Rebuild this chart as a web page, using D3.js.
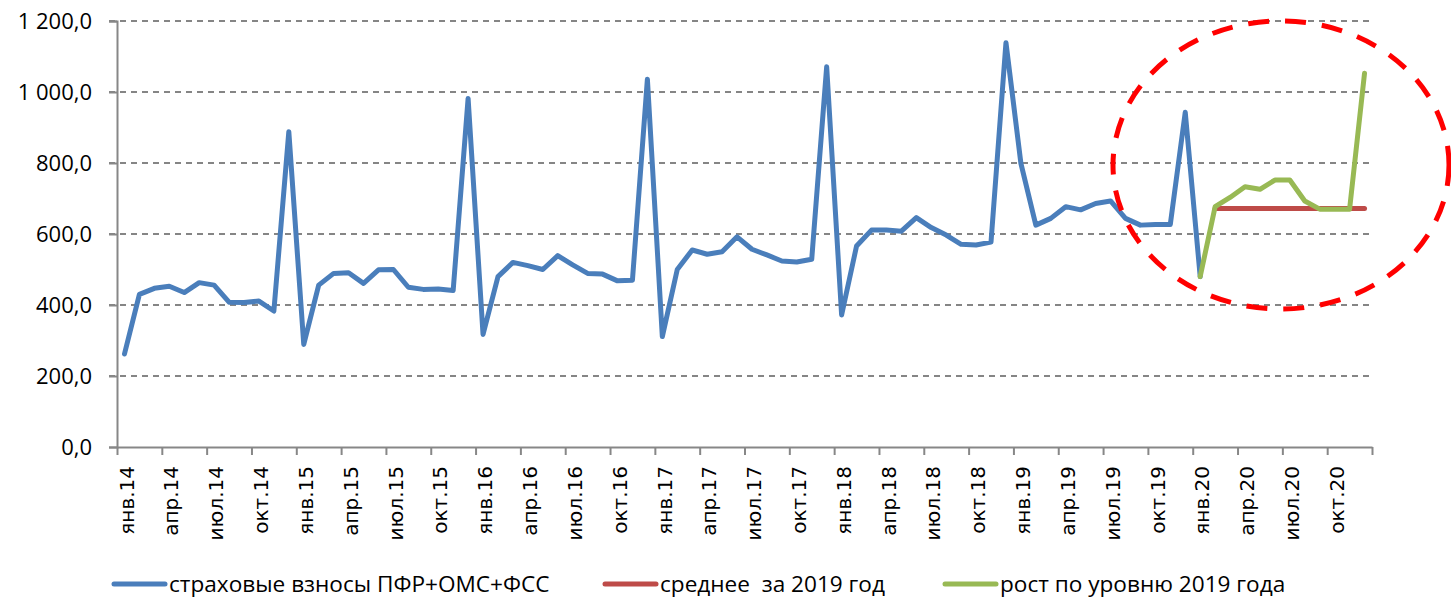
<!DOCTYPE html>
<html>
<head>
<meta charset="utf-8">
<script src="https://cdn.jsdelivr.net/npm/d3@7"></script>
<style>
  body { margin: 0; background: #fff; }
  svg { display: block; }
</style>
</head>
<body>
<div id="chart"></div>
<script>
// month names and years used to build the category axis
const monthNames = ["янв", "фев", "мар", "апр", "май", "июн", "июл", "авг", "сен", "окт", "ноя", "дек"];
const years = ["14", "15", "16", "17", "18", "19", "20"];
const categories = years.flatMap((yr) => monthNames.map((m) => m + "." + yr));

// labels shown under the axis (every 3rd month)
const tickLabels = [
  "янв.14", "апр.14", "июл.14", "окт.14",
  "янв.15", "апр.15", "июл.15", "окт.15",
  "янв.16", "апр.16", "июл.16", "окт.16",
  "янв.17", "апр.17", "июл.17", "окт.17",
  "янв.18", "апр.18", "июл.18", "окт.18",
  "янв.19", "апр.19", "июл.19", "окт.19",
  "янв.20", "апр.20", "июл.20", "окт.20"
];

const yTicks = [0, 200, 400, 600, 800, 1000, 1200];

// страховые взносы, янв.14 - янв.20
const contributions = [
  262, 430, 447, 453, 435, 463, 456, 408, 407, 411, 383, 888,
  289, 456, 489, 491, 461, 499, 500, 450, 444, 445, 441, 982,
  317, 480, 520, 511, 500, 539, 513, 489, 487, 468, 470, 1036,
  311, 500, 555, 543, 550, 592, 557, 541, 524, 521, 529, 1071,
  372, 566, 611, 611, 608, 646, 618, 597, 571, 569, 577, 1139,
  799, 625, 644, 677, 668, 686, 693, 644, 625, 627, 627, 943,
  480
];
const contributionsStart = 0; // янв.14

// среднее за 2019 год, фев.20 - дек.20
const average2019 = [672, 672, 672, 672, 672, 672, 672, 672, 672, 672, 672];
const averageStart = 73; // фев.20

// рост по уровню 2019 года, янв.20 - дек.20
const growth2019 = [480, 677, 703, 733, 726, 752, 752, 693, 670, 670, 670, 1053];
const growthStart = 72; // янв.20

const legendNames = ["страховые взносы ПФР+ОМС+ФСС", "среднее  за 2019 год", "рост по уровню 2019 года"];
const colors = ["#4A7EBB", "#BE4B48", "#98B954"];

const width = 1451;
const height = 600;
const plot = { left: 117, right: 1372, top: 21, bottom: 447 };

const svg = d3
  .select("#chart")
  .append("svg")
  .attr("width", width)
  .attr("height", height);

const x = d3
  .scaleBand()
  .domain(categories)
  .range([plot.left, plot.right])
  .padding(0);

const xIndex = d3
  .scaleLinear()
  .domain([0, categories.length])
  .range([plot.left, plot.right]);

const y = d3
  .scaleLinear()
  .domain([0, 1200])
  .range([plot.bottom, plot.top]);

const ruLocale = d3.formatLocale({
  decimal: ",",
  thousands: " ",
  grouping: [3],
  currency: ["", ""]
});
const fmt = ruLocale.format(",.1f");

// gridlines (dashed)
svg
  .append("g")
  .selectAll("line")
  .data(yTicks.filter((d) => d > 0))
  .enter()
  .append("line")
  .attr("x1", plot.left - 8)
  .attr("x2", plot.right)
  .attr("y1", (d) => y(d))
  .attr("y2", (d) => y(d))
  .style("stroke", "#858585")
  .style("stroke-width", "2px")
  .style("stroke-dasharray", "6,5");

// y axis
const yAxis = svg
  .append("g")
  .attr("transform", `translate(${plot.left}, 0)`)
  .call(d3.axisLeft(y).tickValues(yTicks).tickSize(8).tickPadding(17).tickFormat(fmt));
yAxis.select(".domain").style("stroke", "#878787").style("stroke-width", "2px");
yAxis.selectAll(".tick line").style("stroke", "#878787").style("stroke-width", "2px");
yAxis
  .selectAll(".tick text")
  .style("font-family", "'Open Sans', sans-serif")
  .style("font-size", "22px")
  .style("fill", "#000");

// x axis: ticks between categories
const xAxis = svg
  .append("g")
  .attr("transform", `translate(0, ${plot.bottom})`)
  .call(
    d3
      .axisBottom(xIndex)
      .tickValues(d3.range(0, categories.length + 1, 3))
      .tickSize(8)
      .tickSizeOuter(0)
      .tickFormat("")
  );
xAxis.select(".domain").style("stroke", "#878787").style("stroke-width", "2px");
xAxis.selectAll(".tick line").style("stroke", "#878787").style("stroke-width", "2px");

// rotated month labels
svg
  .append("g")
  .selectAll("text")
  .data(tickLabels)
  .enter()
  .append("text")
  .attr("transform", (d) => `translate(${x(d) + x.bandwidth() / 2 + 2}, ${plot.bottom + 19}) rotate(-90)`)
  .attr("dy", "0.36em")
  .attr("text-anchor", "end")
  .style("font-family", "'DejaVu Sans', sans-serif")
  .style("font-size", "20px")
  .style("fill", "#000")
  .text((d) => d);

// series lines
const line = d3
  .line()
  .x((d) => x(categories[d.i]) + x.bandwidth() / 2)
  .y((d) => y(d.v));

const series = [
  { values: contributions, start: contributionsStart, color: colors[0] },
  { values: average2019, start: averageStart, color: colors[1] },
  { values: growth2019, start: growthStart, color: colors[2] }
];

series.forEach((s) => {
  const pts = s.values.map((v, k) => ({ i: s.start + k, v: v }));
  svg
    .append("path")
    .datum(pts)
    .attr("d", line)
    .style("fill", "none")
    .style("stroke", s.color)
    .style("stroke-width", "5px")
    .style("stroke-linejoin", "round")
    .style("stroke-linecap", "round");
});

// red dashed ellipse around 2020
svg
  .append("ellipse")
  .attr("cx", 1281)
  .attr("cy", 165)
  .attr("rx", 168)
  .attr("ry", 144)
  .style("fill", "none")
  .style("stroke", "#FF0000")
  .style("stroke-width", "5px")
  .style("stroke-dasharray", "21,16");

// legend
const legendX = [112, 603, 943];
const legendY = 584;
const legend = svg
  .append("g")
  .selectAll("g")
  .data(legendNames)
  .enter()
  .append("g")
  .attr("transform", (d, i) => `translate(${legendX[i]}, ${legendY})`);

legend
  .append("line")
  .attr("x1", 2)
  .attr("x2", 53)
  .attr("y1", 0)
  .attr("y2", 0)
  .style("stroke", (d, i) => colors[i])
  .style("stroke-width", "5px")
  .style("stroke-linecap", "round");

legend
  .append("text")
  .attr("x", 57)
  .attr("y", 0)
  .attr("dy", "0.35em")
  .style("white-space", "pre")
  .style("font-family", "'Open Sans', sans-serif")
  .style("font-size", "22.6px")
  .style("fill", "#000")
  .text((d) => d);
</script>
</body>
</html>
